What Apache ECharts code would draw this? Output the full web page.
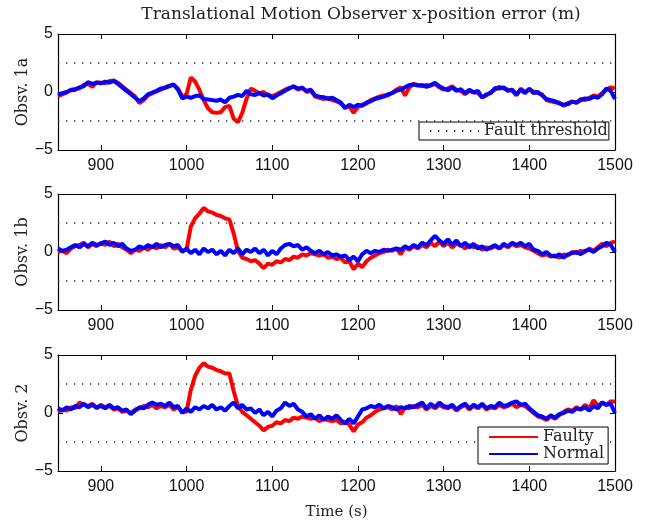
<!DOCTYPE html>
<html><head><meta charset="utf-8">
<script src="https://cdn.jsdelivr.net/npm/echarts@6/dist/echarts.min.js"></script>
<style>html,body{margin:0;padding:0;background:#fff}#c{width:649px;height:521px}</style>
</head><body><div id="c"></div>
<script>
const titleText = 'Translational Motion Observer x-position error (m)';
const panelNames = ['Obsv. 1a', 'Obsv. 1b', 'Obsv. 2'];
const xLabel = 'Time (s)';
const xRange = [850, 1500];
const yRange = [-5, 5];
const xTicks = [900, 1000, 1100, 1200, 1300, 1400, 1500];
const thresholds = [2.5, -2.5];
const tStart = 850, tStep = 5;

// Panel 1 (Obsv. 1a), samples every 5 s from 850 to 1500
const faulty1 = [
 -0.35,-0.2,-0.05,0.2,0.25,0.3,0.6,0.7,0.45,0.85,
 0.8,0.75,0.95,1.0,0.8,0.5,0.2,-0.1,-0.4,-0.95,
 -0.7,-0.3,-0.1,0.05,0.2,0.4,0.55,0.6,0.3,-0.4,
 -0.2,1.25,0.9,0.2,-0.7,-1.4,-1.75,-1.8,-1.75,-1.3,
 -1.2,-2.3,-2.6,-1.8,-0.6,0.3,0.1,-0.1,0.0,-0.3,
 -0.35,-0.2,0.0,0.2,0.35,0.45,0.2,0.4,0.0,0.1,
 -0.4,-0.5,-0.6,-0.5,-0.7,-0.8,-1.0,-1.3,-1.25,-1.8,
 -1.3,-1.1,-1.0,-0.7,-0.55,-0.4,-0.3,-0.3,-0.05,0.2,
 0.4,-0.3,0.4,0.7,0.6,0.5,0.6,0.55,0.7,0.4,
 0.2,0.3,0.5,0.2,0.1,-0.2,0.1,0.0,-0.1,-0.45,
 -0.3,0.0,0.2,0.45,0.3,0.2,0.1,-0.3,0.3,0.0,
 0.2,0.05,-0.1,-0.2,-0.7,-0.8,-0.9,-0.9,-1.2,-0.95,
 -0.8,-0.95,-0.6,-0.7,-0.5,-0.3,-0.4,-0.1,0.2,0.4,
 0.3
];
const normal1 = [
 -0.2,-0.1,0.0,0.15,0.2,0.4,0.5,0.85,0.7,0.8,
 0.75,0.9,0.8,0.95,0.7,0.4,0.1,-0.2,-0.5,-0.8,
 -0.55,-0.2,-0.05,0.1,0.3,0.35,0.5,0.65,0.2,-0.55,
 -0.4,-0.5,-0.35,-0.3,-0.6,-0.65,-0.7,-0.75,-0.65,-0.9,
 -0.5,-0.4,-0.25,-0.35,0.1,-0.2,-0.25,-0.1,-0.3,-0.2,
 -0.55,-0.3,-0.1,0.1,0.3,0.5,0.3,0.35,0.1,0.2,
 -0.3,-0.4,-0.45,-0.6,-0.5,-0.7,-0.9,-1.4,-1.1,-1.3,
 -1.1,-1.2,-0.9,-0.8,-0.6,-0.5,-0.4,-0.2,-0.1,0.1,
 0.2,0.4,0.6,0.65,0.55,0.6,0.45,0.6,0.8,0.5,
 0.3,0.15,0.4,0.1,0.25,-0.1,0.2,-0.05,0.1,-0.5,
 -0.2,-0.1,0.35,0.3,0.4,0.1,0.2,-0.2,0.2,-0.1,
 0.3,-0.1,0.0,-0.3,-0.6,-0.7,-0.8,-1.0,-1.1,-1.05,
 -0.85,-0.9,-0.7,-0.55,-0.6,-0.4,-0.5,-0.2,0.3,0.1,
 -0.6
];
// Panel 2 (Obsv. 1b)
const faulty2 = [
 0.0,0.1,-0.1,0.3,0.5,0.6,0.8,0.4,0.7,0.5,
 0.8,0.6,0.9,0.5,0.7,0.4,0.2,-0.1,0.2,0.1,
 0.4,0.2,0.5,0.3,0.6,0.4,0.7,0.3,0.4,0.1,
 0.2,2.2,2.9,3.3,3.8,3.5,3.4,3.2,3.1,2.9,
 2.8,1.6,0.1,-0.5,-0.6,-0.8,-0.7,-1.0,-1.4,-1.0,
 -1.1,-0.8,-0.9,-0.6,-0.7,-0.4,-0.5,-0.2,-0.3,-0.1,
 -0.2,-0.3,-0.2,-0.5,-0.4,-0.6,-0.5,-0.9,-0.8,-1.5,
 -1.0,-1.3,-0.8,-0.5,-0.3,-0.1,0.0,0.2,0.1,0.3,
 -0.2,0.4,0.2,0.5,0.3,0.6,0.4,0.8,0.5,0.9,
 0.5,0.8,0.4,0.7,0.6,0.3,0.6,0.4,0.5,0.2,
 0.4,0.3,0.5,0.3,0.6,0.4,0.7,0.5,0.6,0.4,
 0.3,0.1,-0.1,-0.3,-0.2,-0.4,-0.3,-0.5,-0.2,-0.3,
 0.0,-0.1,0.1,0.0,0.3,0.1,0.4,0.7,0.5,0.8,
 0.9
];
const normal2 = [
 0.3,0.1,0.2,0.4,0.6,0.4,0.7,0.5,0.8,0.6,
 0.7,0.9,0.6,0.8,0.5,0.7,0.3,0.1,0.2,0.5,
 0.3,0.6,0.4,0.7,0.4,0.6,0.7,0.5,0.6,0.0,
 0.3,-0.1,0.2,-0.2,0.3,0.0,0.2,-0.2,0.1,-0.3,
 0.2,-0.1,0.3,-0.2,0.2,0.0,0.3,-0.1,0.2,-0.3,
 0.1,-0.2,0.3,0.6,0.7,0.5,0.6,0.2,0.4,0.1,
 -0.1,0.1,-0.2,0.0,-0.3,-0.2,-0.4,-0.3,-0.7,-0.4,
 -0.8,-0.2,0.1,-0.1,0.1,0.0,0.2,0.1,0.2,0.3,
 0.2,0.5,0.3,0.6,0.4,0.8,0.6,1.0,1.4,1.0,
 0.7,1.1,0.6,1.0,0.5,0.8,0.4,0.7,0.3,0.5,
 0.2,0.4,0.6,0.3,0.7,0.5,0.8,0.6,0.8,0.5,
 0.7,0.2,0.1,-0.2,0.0,-0.3,-0.4,-0.2,-0.5,-0.2,
 -0.1,0.0,-0.2,0.1,0.2,0.0,0.3,0.5,0.8,0.6,
 0.0
];
// Panel 3 (Obsv. 2)
const faulty3 = [
 0.1,0.3,0.2,0.5,0.4,0.9,0.7,0.6,0.8,0.4,
 0.7,0.5,0.6,0.3,0.4,0.1,0.2,0.0,0.3,0.4,
 0.6,0.5,0.7,0.4,0.6,0.5,0.7,0.3,0.5,0.1,
 0.1,2.0,3.2,3.9,4.3,4.0,3.9,3.7,3.6,3.4,
 3.4,1.9,0.6,0.1,-0.2,-0.5,-0.8,-1.1,-1.5,-1.2,
 -1.1,-0.8,-0.9,-0.6,-0.7,-0.4,-0.5,-0.3,-0.4,-0.5,
 -0.4,-0.7,-0.5,-0.6,-0.7,-0.6,-0.9,-0.8,-1.0,-1.6,
 -1.0,-0.8,-0.4,-0.2,0.1,0.3,0.4,0.5,0.3,0.6,
 -0.1,0.5,0.4,0.6,0.5,0.7,0.3,0.6,0.4,0.7,
 0.5,0.4,0.6,0.2,0.5,0.7,0.3,0.6,0.4,0.7,
 0.3,0.5,0.4,0.7,0.5,0.6,0.8,0.5,0.7,0.6,
 0.3,0.0,-0.3,-0.4,-0.6,-0.3,-0.5,-0.2,0.1,0.3,
 0.2,0.5,0.3,0.7,0.4,1.1,0.6,0.9,0.7,1.0,
 1.0
];
const normal3 = [
 0.4,0.2,0.5,0.3,0.6,0.5,0.8,0.5,0.7,0.5,
 0.6,0.4,0.7,0.4,0.5,0.2,0.3,-0.1,0.2,0.5,
 0.4,0.7,0.9,0.7,0.8,0.6,0.9,0.5,0.6,0.0,
 0.4,0.1,0.5,0.3,0.6,0.4,0.7,0.3,0.5,0.2,
 0.6,0.9,0.4,0.7,0.3,0.4,0.0,0.3,-0.2,0.1,
 -0.3,0.2,0.4,0.9,0.6,0.8,0.3,0.1,-0.3,-0.1,
 -0.5,-0.2,-0.6,-0.3,-0.5,-0.2,-0.6,-0.9,-0.5,-0.9,
 -0.3,0.3,0.4,0.6,0.5,0.7,0.4,0.6,0.5,0.3,
 0.5,0.4,0.6,0.5,0.7,0.9,0.4,0.8,0.5,0.9,
 0.6,0.5,0.7,0.3,0.6,0.8,0.4,0.7,0.5,0.8,
 0.4,0.6,0.5,0.9,0.6,0.7,0.9,1.0,0.7,0.8,
 0.4,0.1,-0.2,-0.3,-0.5,-0.2,-0.4,-0.1,0.0,0.2,
 0.1,0.4,0.3,0.5,0.2,0.6,0.4,0.9,0.7,0.8,
 0.0
];

const faultySets = [faulty1, faulty2, faulty3];
const normalSets = [normal1, normal2, normal3];

function pair(vals) { return vals.map((v, i) => [tStart + i * tStep, v]); }

const serif = 'DejaVu Serif';
const sans = 'Liberation Sans';
const gridTops = [34, 194, 355];

const grids = [], xAxes = [], yAxes = [], series = [];
const minus = v => (v < 0 ? '\u2212' + Math.abs(v) : String(v));

gridTops.forEach((top, i) => {
  grids.push({ left: 58, top: top, width: 557, height: 116 });
  const common = {
    gridIndex: i, type: 'value', min: xRange[0], max: xRange[1],
    axisLine: { show: true, onZero: false, lineStyle: { color: '#000', width: 1.2 } },
    splitLine: { show: false }
  };
  xAxes.push(Object.assign({}, common, {
    position: 'bottom',
    axisTick: { show: true, inside: true, length: 5, customValues: xTicks, lineStyle: { color: '#000' } },
    axisLabel: { show: true, customValues: xTicks, color: '#111', fontFamily: sans, fontSize: 16, margin: 8, formatter: v => String(v) },
    name: i === 2 ? xLabel : '', nameLocation: 'middle', nameGap: 34, nameMoveOverlap: false,
    nameTextStyle: { fontFamily: serif, fontSize: 15, color: '#222' }
  }));
  xAxes.push(Object.assign({}, common, {
    position: 'top',
    axisTick: { show: true, inside: true, length: 5, customValues: xTicks, lineStyle: { color: '#000' } },
    axisLabel: { show: false }
  }));
  const yCommon = {
    gridIndex: i, type: 'value', min: yRange[0], max: yRange[1], interval: 5,
    axisLine: { show: true, onZero: false, lineStyle: { color: '#000', width: 1.2 } },
    axisTick: { show: true, inside: true, length: 5, lineStyle: { color: '#000' } },
    splitLine: { show: false }
  };
  yAxes.push(Object.assign({}, yCommon, {
    position: 'left',
    axisLabel: { show: true, color: '#111', fontFamily: sans, fontSize: 16, margin: 5, formatter: minus },
    name: panelNames[i], nameLocation: 'middle', nameGap: 27, nameRotate: 90, nameMoveOverlap: false,
    nameTextStyle: { fontFamily: serif, fontSize: 16, color: '#222' }
  }));
  yAxes.push(Object.assign({}, yCommon, { position: 'right', axisLabel: { show: false } }));

  thresholds.forEach(th => {
    series.push({
      name: 'Fault threshold', type: 'line', xAxisIndex: 2 * i, yAxisIndex: 2 * i,
      data: [[xRange[0], th], [xRange[1], th]], symbol: 'none', silent: true,
      lineStyle: { color: '#333', width: 1.3, type: [1.3, 6.7] }, z: 1
    });
  });
  series.push({
    name: 'Faulty', type: 'line', xAxisIndex: 2 * i, yAxisIndex: 2 * i,
    data: pair(faultySets[i]), symbol: 'none',
    lineStyle: { color: '#ff0000', width: 4 }, itemStyle: { color: '#ff0000' }, z: 2
  });
  series.push({
    name: 'Normal', type: 'line', xAxisIndex: 2 * i, yAxisIndex: 2 * i,
    data: pair(normalSets[i]), symbol: 'none',
    lineStyle: { color: '#0000ff', width: 4 }, itemStyle: { color: '#0000ff' }, z: 3
  });
});

const chart = echarts.init(document.getElementById('c'), null, { renderer: 'canvas' });
chart.setOption({
  animation: false,
  backgroundColor: '#fff',
  grid: grids, xAxis: xAxes, yAxis: yAxes, series: series,
  legend: [
    {
      data: ['Fault threshold'], left: 419, top: 122, orient: 'horizontal',
      backgroundColor: '#fff', borderColor: '#000', borderWidth: 1, borderRadius: 0,
      padding: [1, 1, 1, 10], itemWidth: 49, itemHeight: 16, itemGap: 4, selectedMode: false,
      itemStyle: { opacity: 0 },
      textStyle: { fontFamily: serif, fontSize: 16, color: '#222' }
    },
    {
      data: ['Faulty', 'Normal'], left: 478, top: 427, orient: 'vertical',
      backgroundColor: '#fff', borderColor: '#000', borderWidth: 1, borderRadius: 0,
      padding: [2, 4, 2, 10], itemWidth: 49, itemHeight: 16, itemGap: 1, selectedMode: false,
      itemStyle: { opacity: 0 },
      textStyle: { fontFamily: serif, fontSize: 16, color: '#222' }
    }
  ],
  graphic: [{
    type: 'text', x: 361, y: 15,
    style: { text: titleText, font: '17px "DejaVu Serif"', fill: '#222', textAlign: 'center', textVerticalAlign: 'middle' }
  }]
});
</script></body></html>
